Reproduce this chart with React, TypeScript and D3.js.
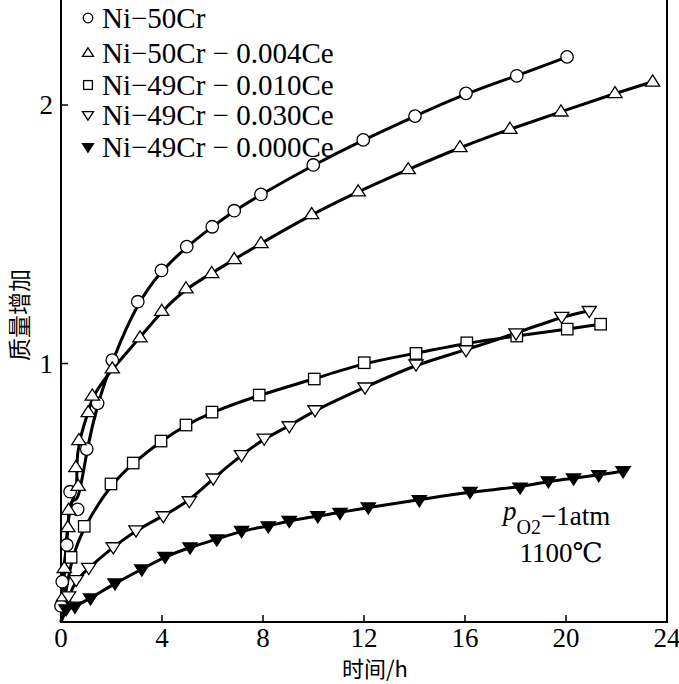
import React from "react";
import * as d3 from "d3";

// ---- data ----
const ni50Time = [0.0, 0.05, 0.23, 0.36, 0.66, 1.02, 1.45, 2.03, 3.04, 3.98, 4.98, 5.99, 6.86, 7.92, 9.99, 11.97, 14.02, 16.04, 18.05, 20.04];
const ni50Mass = [0.062, 0.156, 0.298, 0.504, 0.436, 0.669, 0.846, 1.013, 1.239, 1.36, 1.452, 1.529, 1.591, 1.654, 1.768, 1.865, 1.957, 2.045, 2.113, 2.186];

const ce004Time = [0.1, 0.13, 0.27, 0.3, 0.68, 0.59, 0.71, 1.08, 1.24, 2.03, 3.13, 3.99, 4.95, 5.97, 6.86, 7.92, 9.93, 11.77, 13.75, 15.8, 17.78, 19.8, 21.94, 23.43];
const ce004Mass = [0.098, 0.208, 0.366, 0.433, 0.526, 0.598, 0.703, 0.811, 0.875, 0.98, 1.1, 1.203, 1.29, 1.349, 1.403, 1.465, 1.577, 1.665, 1.751, 1.836, 1.907, 1.974, 2.045, 2.09];

const ce010Time = [0.4, 0.92, 1.98, 2.86, 3.96, 4.95, 5.98, 7.85, 10.03, 12.01, 14.06, 16.07, 18.05, 20.05, 21.37];
const ce010Mass = [0.25, 0.37, 0.534, 0.615, 0.7, 0.762, 0.812, 0.878, 0.94, 1.003, 1.039, 1.08, 1.106, 1.133, 1.152];

const ce030Time = [0.3, 0.6, 1.1, 2.07, 2.97, 4.05, 5.08, 6.03, 7.15, 8.05, 9.04, 10.06, 12.04, 14.06, 16.04, 18.02, 19.83, 20.92];
const ce030Mass = [0.1, 0.163, 0.21, 0.29, 0.355, 0.41, 0.468, 0.556, 0.646, 0.71, 0.758, 0.82, 0.908, 0.997, 1.052, 1.117, 1.181, 1.204];

const ce000Time = [0.2, 0.55, 1.17, 2.14, 3.2, 4.12, 5.11, 6.17, 7.15, 8.21, 9.04, 10.17, 11.05, 12.17, 14.19, 16.2, 18.18, 19.3, 20.3, 21.3, 22.26];
const ce000Mass = [0.05, 0.06, 0.092, 0.15, 0.204, 0.253, 0.289, 0.32, 0.353, 0.371, 0.392, 0.41, 0.423, 0.444, 0.472, 0.504, 0.521, 0.545, 0.556, 0.569, 0.584];

const origin = [0, 0];

const seriesNames = [
  "Ni−50Cr",
  "Ni−50Cr − 0.004Ce",
  "Ni−49Cr − 0.010Ce",
  "Ni−49Cr − 0.030Ce",
  "Ni−49Cr − 0.000Ce",
];
const seriesMarkers = ["circle", "triangle", "square", "invTriangle", "filledInvTriangle"];
const seriesFromOrigin = [false, false, true, true, true];

const xTicks = [0, 4, 8, 12, 16, 20, 24];
const yTicks = [1, 2];
const xLabel = "时间/h";
const yLabel = "质量增加";

const W = 679;
const H = 684;
const X0 = 61;
const X1 = 667;
const Y0 = 622;

const serif = "Liberation Serif, Times New Roman, DejaVu Serif, serif";
const cjk = "Noto Sans CJK SC, sans-serif";

function Marker({ kind, x, y, s }: { kind: string; x: number; y: number; s: number }) {
  const sw = 1.3;
  if (kind === "circle") {
    return <circle cx={x} cy={y} r={s * 0.48} fill="#fff" stroke="#000" strokeWidth={sw} />;
  }
  if (kind === "square") {
    const h = s * 0.44;
    return <rect x={x - h} y={y - h} width={2 * h} height={2 * h} fill="#fff" stroke="#000" strokeWidth={sw} />;
  }
  const a = s * 0.55;
  const up = kind === "triangle";
  const d = up
    ? `M${x},${y - a * 0.95}L${x + a},${y + a * 0.6}L${x - a},${y + a * 0.6}Z`
    : `M${x},${y + a * 0.95}L${x + a},${y - a * 0.6}L${x - a},${y - a * 0.6}Z`;
  const filled = kind === "filledInvTriangle";
  return <path d={d} fill={filled ? "#000" : "#fff"} stroke="#000" strokeWidth={sw} strokeLinejoin="miter" />;
}

export default function App() {
  const x = d3.scaleLinear().domain([0, 24]).range([X0, X1]);
  const y = d3.scaleLinear().domain([0, 2.4]).range([Y0, 1.6]);

  const times = [ni50Time, ce004Time, ce010Time, ce030Time, ce000Time];
  const masses = [ni50Mass, ce004Mass, ce010Mass, ce030Mass, ce000Mass];

  const line = d3
    .line<[number, number]>()
    .x((d) => x(d[0]))
    .y((d) => y(d[1]))
    .curve(d3.curveBasis);

  const series = times.map((t, i) => {
    const pts: [number, number][] = t.map((tt, j) => [tt, masses[i][j]]);
    const linePts: [number, number][] = seriesFromOrigin[i] ? [[origin[0], origin[1]], ...pts] : pts;
    return { pts, linePts, kind: seriesMarkers[i], name: seriesNames[i] };
  });

  const legendY = [18, 53, 85, 115, 147];
  const serifStyle = { fontFamily: serif };
  const cjkStyle = { fontFamily: cjk };

  return (
    <svg
      width={W}
      height={H}
      style={{ position: "absolute", left: 0, top: 0, background: "#fff" }}
      xmlns="http://www.w3.org/2000/svg"
    >
      <rect x={0} y={0} width={W} height={H} fill="#fff" />
      {/* frame */}
      <line x1={X0} y1={0} x2={X0} y2={Y0} stroke="#000" strokeWidth={2} />
      <line x1={X1} y1={0} x2={X1} y2={Y0} stroke="#000" strokeWidth={2} />
      <line x1={X0 - 1} y1={Y0} x2={X1 + 1} y2={Y0} stroke="#000" strokeWidth={2} />

      {/* x ticks */}
      {xTicks.map((t) => (
        <g key={"xt" + t}>
          {t > 0 && t < 24 && <line x1={x(t)} x2={x(t)} y1={Y0} y2={Y0 - 7} stroke="#000" strokeWidth={1.5} />}
          <text x={x(t)} y={647} textAnchor="middle" style={serifStyle} fontSize={27}>
            {t}
          </text>
        </g>
      ))}
      {/* y ticks */}
      {yTicks.map((v) => (
        <g key={"yt" + v}>
          <line x1={X0} x2={X0 + 7} y1={y(v)} y2={y(v)} stroke="#000" strokeWidth={1.5} />
          <text x={53} y={y(v) + 9} textAnchor="end" style={serifStyle} fontSize={27}>
            {v}
          </text>
        </g>
      ))}

      {/* axis labels */}
      <text x={375} y={677} textAnchor="middle" style={cjkStyle} fontSize={22}>
        {xLabel}
      </text>
      <text
        transform={`translate(28,315) rotate(-90)`}
        textAnchor="middle"
        style={cjkStyle}
        fontSize={23}
      >
        {yLabel}
      </text>

      {/* lines */}
      {series.map((s, i) => (
        <path key={"l" + i} d={line(s.linePts) || ""} fill="none" stroke="#000" strokeWidth={3} />
      ))}
      {/* markers */}
      {series.map((s, i) => (
        <g key={"m" + i}>
          {s.pts.map((p, j) => (
            <Marker key={j} kind={s.kind} x={x(p[0])} y={y(p[1])} s={13} />
          ))}
        </g>
      ))}

      {/* legend */}
      {series.map((s, i) => (
        <g key={"lg" + i}>
          <Marker kind={s.kind} x={88} y={legendY[i]} s={10} />
          <text x={102} y={legendY[i] + 10} style={serifStyle} fontSize={29}>
            {s.name}
          </text>
        </g>
      ))}

      {/* annotation */}
      <text x={503} y={525} style={serifStyle} fontSize={27}>
        <tspan fontStyle="italic" dy={-5}>p</tspan>
        <tspan fontSize={20} dy={14}>O2</tspan>
        <tspan dy={-9}>−1atm</tspan>
      </text>
      <text x={561} y={562} textAnchor="middle" style={serifStyle} fontSize={27}>
        1100℃
      </text>
    </svg>
  );
}
